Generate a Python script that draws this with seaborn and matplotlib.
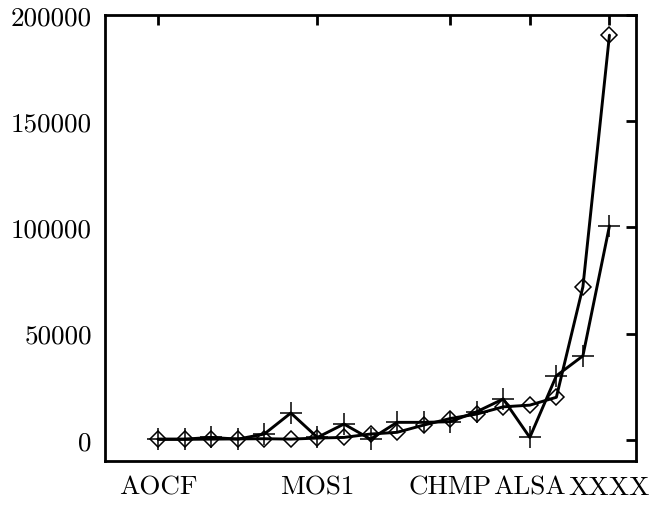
import numpy as np
import pandas as pd
import matplotlib
matplotlib.use("Agg")
import matplotlib.pyplot as plt
import seaborn as sns

# Benchmark index along x; only some points carry a name on the axis
index = list(range(18))
tick_index = [0, 6, 11, 14, 17]
tick_labels = ["AOCF", "MOS1", "CHMP", "ALSA", "XXXX"]

# Two measured series
series_diamond = [200, 200, 300, 400, 500, 300, 800, 1100, 2700, 3500, 6900,
                  10000, 12100, 15500, 16300, 20000, 72000, 190500]
series_plus = [300, 300, 1100, 300, 2700, 12600, 1100, 7400, 300, 8200, 8200,
               8500, 13200, 19200, 1100, 30100, 39500, 100700]

y_ticks = [0, 50000, 100000, 150000, 200000]

sns.set_style("white")
plt.rcParams["font.family"] = ["cmr10", "DejaVu Serif"]
plt.rcParams["axes.unicode_minus"] = False
plt.rcParams["font.size"] = 19.5

df = pd.DataFrame({"x": index, "a": series_diamond, "b": series_plus})

fig = plt.figure(figsize=(6.5, 5.06), dpi=100)
ax = fig.add_axes([105 / 650, 1 - 462 / 506, (636 - 105) / 650, (462 - 16) / 506])

sns.lineplot(data=df, x="x", y="a", ax=ax, color="black", linewidth=2.1,
             marker="D", markersize=8.2, mfc="none", mec="black", mew=1.1)
sns.lineplot(data=df, x="x", y="b", ax=ax, color="black", linewidth=2.1,
             marker="+", markersize=15.5, mec="black", mew=1.1)

ax.set_xlim(-2, 18)
ax.set_ylim(-10000, 200000)
ax.set_xticks(tick_index)
ax.set_xticklabels(tick_labels)
ax.set_yticks(y_ticks)
ax.set_yticklabels([str(v) for v in y_ticks])
ax.set_xlabel("")
ax.set_ylabel("")

ax.tick_params(direction="in", length=7.5, width=2.0, top=True, right=True,
               labelsize=19.5, colors="black")
ax.tick_params(axis="y", pad=9.5)
ax.tick_params(axis="x", pad=10)
for sp in ax.spines.values():
    sp.set_visible(True)
    sp.set_linewidth(2.0)
    sp.set_color("black")

fig.savefig("out.png", dpi=100)
